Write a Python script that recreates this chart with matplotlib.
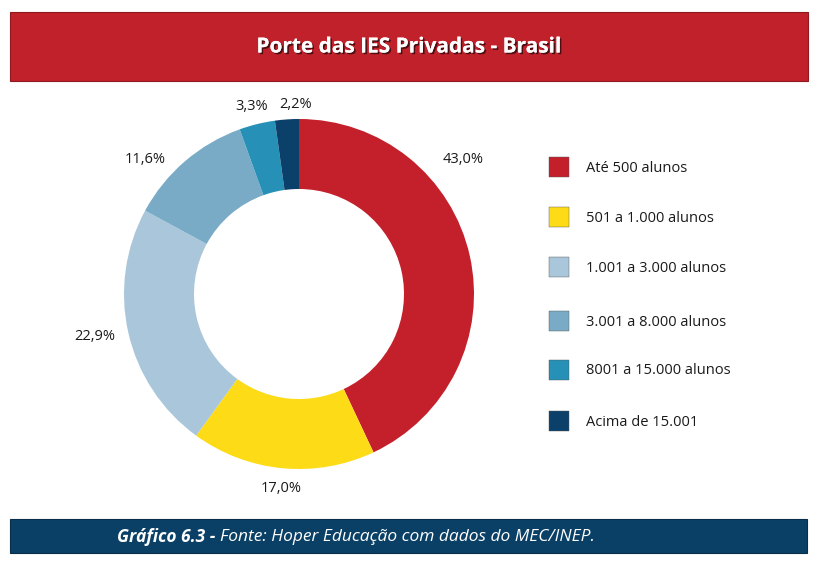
import matplotlib.pyplot as plt
import matplotlib.patheffects as pe
from matplotlib.patches import Rectangle

categories = ['Até 500 alunos', '501 a 1.000 alunos', '1.001 a 3.000 alunos',
              '3.001 a 8.000 alunos', '8001 a 15.000 alunos', 'Acima de 15.001']
shares = [43.0, 17.0, 22.9, 11.6, 3.3, 2.2]
colors = ['#C4202B', '#FDDB17', '#A9C6DA', '#79ABC6', '#2690B6', '#0B406A']

# label positions (pie units, radius = 1)
label_pos = [(0.94, 0.77), (-0.10, -1.11), (-1.17, -0.24),
             (-0.88, 0.77), (-0.27, 1.07), (-0.02, 1.08)]

W, H = 821, 570
fig = plt.figure(figsize=(W / 100, H / 100), dpi=100)
fig.patch.set_facecolor('white')

# background axes in pixel coords
bg = fig.add_axes([0, 0, 1, 1])
bg.set_xlim(0, W)
bg.set_ylim(H, 0)
bg.axis('off')

# header band
bg.add_patch(Rectangle((10, 12), 798, 69, facecolor='#C1212B', edgecolor='#8E1A20', linewidth=0.8))
bg.text(409, 47, 'Porte das IES Privadas - Brasil', color='white', fontsize=15,
        fontweight='bold', family='Open Sans', ha='center', va='center',
        path_effects=[pe.withSimplePatchShadow(offset=(1.2, -1.2), shadow_rgbFace='black', alpha=0.6),
                      pe.Normal()])

# footer band
bg.add_patch(Rectangle((10, 519), 797, 34, facecolor='#0B4066', edgecolor='#082E4A', linewidth=0.8))
t1 = bg.text(117, 537, 'Gráfico 6.3 - ', color='white', fontsize=12.5, fontweight='bold',
             style='italic', family='Open Sans', ha='left', va='center')
fig.canvas.draw()
bb = t1.get_window_extent()
x_end = bg.transData.inverted().transform((bb.x1, bb.y0))[0]
bg.text(x_end, 537, 'Fonte: Hoper Educação com dados do MEC/INEP.', color='white', fontsize=12.5,
        style='italic', family='Open Sans', ha='left', va='center')

# legend
for i, (cat, col) in enumerate(zip(categories, colors)):
    y = [167, 217, 267, 321, 370, 421][i]
    bg.add_patch(Rectangle((549, y - 10), 20, 20, facecolor=col, edgecolor='#555555', linewidth=0.3))
    bg.text(586, y + 1, cat, fontsize=10.5, family='Open Sans', ha='left', va='center', color='#1a1a1a')

# donut
cx, cy, r = 299, 294, 175
ax = fig.add_axes([(cx - r) / W, (H - cy - r) / H, 2 * r / W, 2 * r / H])
ax.pie(shares, colors=colors, startangle=90, counterclock=False, radius=1,
       wedgeprops=dict(width=0.4, edgecolor='none'))
ax.set_xlim(-1, 1)
ax.set_ylim(-1, 1)
ax.set_aspect('equal')
ax.axis('off')
for val, (lx, ly) in zip(shares, label_pos):
    ax.text(lx, ly, f'{val:.1f}%'.replace('.', ','), fontsize=10.5, family='Open Sans',
            ha='center', va='center', color='#1a1a1a', clip_on=False)

fig.savefig('out.png', dpi=100)
